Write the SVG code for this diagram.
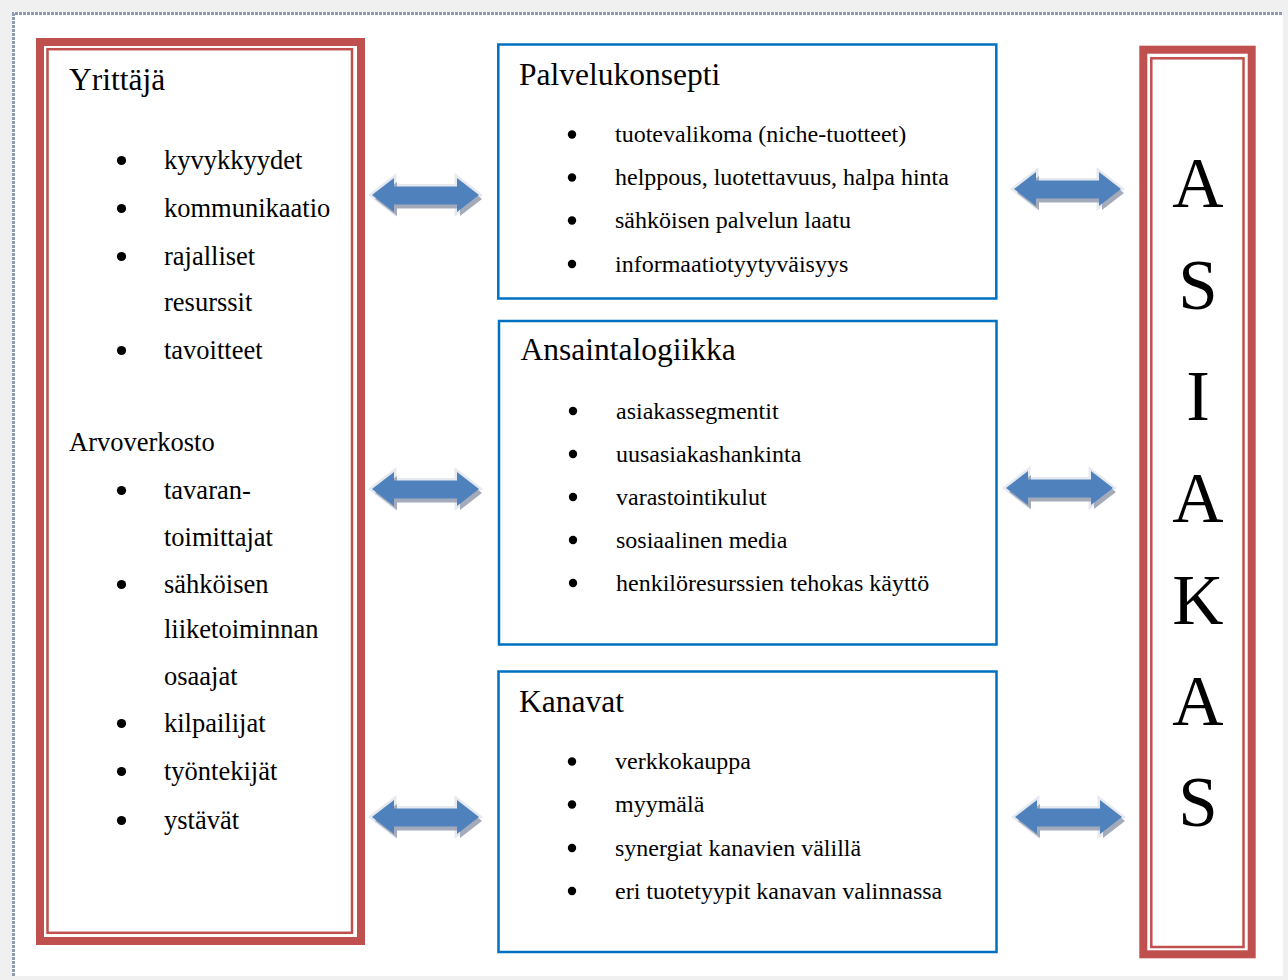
<svg xmlns="http://www.w3.org/2000/svg" width="1288" height="980" viewBox="0 0 1288 980">
<defs>
<style>
.t{font-family:"Liberation Serif","Times New Roman",serif;fill:#000}
.title{font-size:31.5px}
.lb{font-size:26.5px}
.mb{font-size:24px}
.big{font-size:71px;text-anchor:middle}
.red{fill:none;stroke:#C0504D}
.blue{fill:#fff;stroke:#0070C0;stroke-width:2.5}
.dot{fill:#000}
</style>
<path id="arr" d="M0,17 L22,0 L22,8.5 L85,8.5 L85,0 L107,17 L85,34 L85,26.5 L22,26.5 L22,34 Z"/>
<g id="arrow">
<use href="#arr" fill="none" stroke="#e6eaf0" stroke-width="5" stroke-linejoin="miter"/>
<use href="#arr" transform="translate(3,4)" fill="#a3abbb"/>
<use href="#arr" fill="#4F81BD"/>
</g>
</defs>
<rect x="0" y="0" width="1288" height="980" fill="#f0f0f0"/>
<rect x="12" y="12" width="1271" height="964" fill="#fff"/>
<path d="M13.5,976 L13.5,13.5 L1283,13.5" fill="none" stroke="#8f9bb1" stroke-width="3" stroke-dasharray="3,1"/>

<g id="yrittaja">
<rect class="red" x="40" y="42" width="321" height="899" stroke-width="8"/>
<rect class="red" x="47.5" y="49.2" width="304.5" height="883.6" stroke-width="2.5"/>
<text class="t title" x="69" y="90">Yrittäjä</text>
<circle class="dot" cx="121.5" cy="160.5" r="4.6"/>
<text class="t lb" x="164" y="168.5">kyvykkyydet</text>
<circle class="dot" cx="121.5" cy="208.5" r="4.6"/>
<text class="t lb" x="164" y="216.5">kommunikaatio</text>
<circle class="dot" cx="121.5" cy="256.5" r="4.6"/>
<text class="t lb" x="164" y="264.5">rajalliset</text>
<text class="t lb" x="164" y="311">resurssit</text>
<circle class="dot" cx="121.5" cy="350.5" r="4.6"/>
<text class="t lb" x="164" y="358.5">tavoitteet</text>
<text class="t lb" x="69" y="451">Arvoverkosto</text>
<circle class="dot" cx="121.5" cy="490.5" r="4.6"/>
<text class="t lb" x="164" y="498.5">tavaran-</text>
<text class="t lb" x="164" y="545.5">toimittajat</text>
<circle class="dot" cx="121.5" cy="584.5" r="4.6"/>
<text class="t lb" x="164" y="592.5">sähköisen</text>
<text class="t lb" x="164" y="638">liiketoiminnan</text>
<text class="t lb" x="164" y="685">osaajat</text>
<circle class="dot" cx="121.5" cy="723.5" r="4.6"/>
<text class="t lb" x="164" y="731.5">kilpailijat</text>
<circle class="dot" cx="121.5" cy="771.5" r="4.6"/>
<text class="t lb" x="164" y="779.5">työntekijät</text>
<circle class="dot" cx="121.5" cy="820.5" r="4.6"/>
<text class="t lb" x="164" y="828.5">ystävät</text>
</g>

<g id="palvelukonsepti">
<rect class="blue" x="498.3" y="44.5" width="498" height="254"/>
<text class="t title" x="519" y="85">Palvelukonsepti</text>
<circle class="dot" cx="572" cy="134.5" r="4.2"/>
<text class="t mb" x="615" y="142">tuotevalikoma (niche-tuotteet)</text>
<circle class="dot" cx="572" cy="177.5" r="4.2"/>
<text class="t mb" x="615" y="185">helppous, luotettavuus, halpa hinta</text>
<circle class="dot" cx="572" cy="220.5" r="4.2"/>
<text class="t mb" x="615" y="228">sähköisen palvelun laatu</text>
<circle class="dot" cx="572" cy="264" r="4.2"/>
<text class="t mb" x="615" y="271.5">informaatiotyytyväisyys</text>
</g>

<g id="ansaintalogiikka">
<rect class="blue" x="499" y="321" width="497.5" height="323.5"/>
<text class="t title" x="520.5" y="360">Ansaintalogiikka</text>
<circle class="dot" cx="573" cy="411" r="4.2"/>
<text class="t mb" x="616" y="418.5">asiakassegmentit</text>
<circle class="dot" cx="573" cy="454" r="4.2"/>
<text class="t mb" x="616" y="461.5">uusasiakashankinta</text>
<circle class="dot" cx="573" cy="497" r="4.2"/>
<text class="t mb" x="616" y="504.5">varastointikulut</text>
<circle class="dot" cx="573" cy="540" r="4.2"/>
<text class="t mb" x="616" y="547.5">sosiaalinen media</text>
<circle class="dot" cx="573" cy="583" r="4.2"/>
<text class="t mb" x="616" y="590.5">henkilöresurssien tehokas käyttö</text>
</g>

<g id="kanavat">
<rect class="blue" x="498.5" y="671.5" width="498" height="280.5"/>
<text class="t title" x="519" y="711.5">Kanavat</text>
<circle class="dot" cx="572" cy="761.5" r="4.2"/>
<text class="t mb" x="615" y="769">verkkokauppa</text>
<circle class="dot" cx="572" cy="804.5" r="4.2"/>
<text class="t mb" x="615" y="812">myymälä</text>
<circle class="dot" cx="572" cy="848" r="4.2"/>
<text class="t mb" x="615" y="855.5">synergiat kanavien välillä</text>
<circle class="dot" cx="572" cy="891" r="4.2"/>
<text class="t mb" x="615" y="898.5">eri tuotetyypit kanavan valinnassa</text>
</g>

<g id="asiakas">
<rect class="red" x="1143.3" y="49.7" width="108.4" height="904.6" stroke-width="8"/>
<rect class="red" x="1151.3" y="58.3" width="92.2" height="888.7" stroke-width="2.5"/>
<text class="t big" x="1198" y="207">A</text>
<text class="t big" x="1198" y="309">S</text>
<text class="t big" x="1198" y="420">I</text>
<text class="t big" x="1198" y="522">A</text>
<text class="t big" x="1198" y="624">K</text>
<text class="t big" x="1198" y="725">A</text>
<text class="t big" x="1198" y="826">S</text>
</g>

<g id="connectors">
<use href="#arrow" transform="translate(372,178)"/>
<use href="#arrow" transform="translate(372,472)"/>
<use href="#arrow" transform="translate(372,800)"/>
<use href="#arrow" transform="translate(1014,172)"/>
<use href="#arrow" transform="translate(1006,471)"/>
<use href="#arrow" transform="translate(1015,800)"/>
</g>
</svg>
